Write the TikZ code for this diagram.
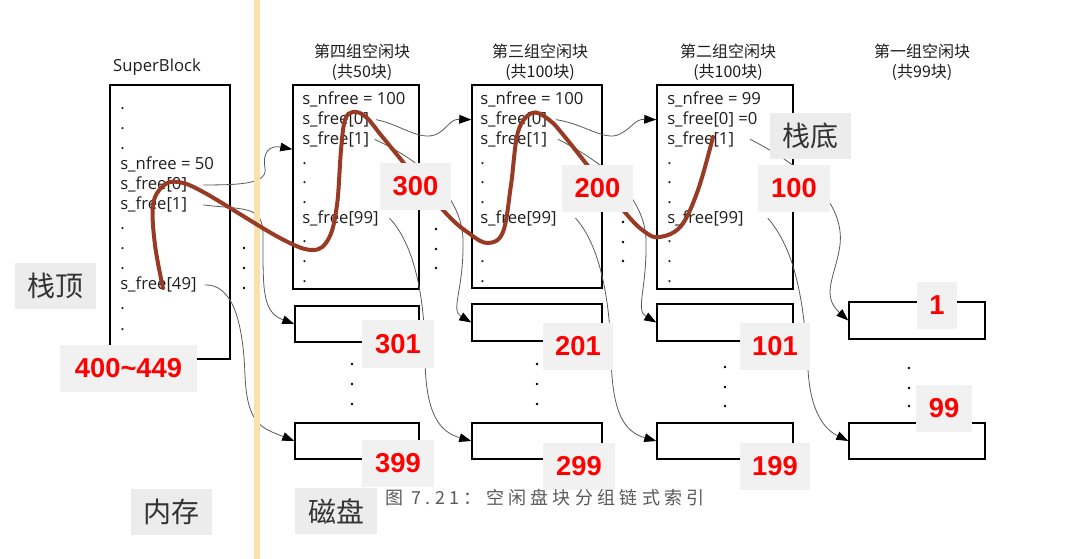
\documentclass[tikz,border=0pt]{standalone}
\usepackage{fontspec}
\setmainfont{Open Sans}
\newfontfamily\cjkf{Noto Sans CJK SC}
\newfontfamily\numf{Liberation Sans}
\usetikzlibrary{arrows.meta,calc}
\definecolor{barcol}{RGB}{249,226,174}
\definecolor{brownc}{RGB}{153,58,36}
\definecolor{conncol}{RGB}{90,90,90}
\definecolor{lblbg}{RGB}{241,241,241}
\definecolor{tagbg}{RGB}{236,236,236}
\definecolor{taggray}{RGB}{51,51,51}
\definecolor{capgray}{RGB}{90,90,90}
\definecolor{txtcol}{RGB}{30,30,30}
\tikzset{
  txt/.style={font=\fontsize{12.5}{14}\selectfont, text=txtcol, anchor=base west, inner sep=0pt},
  ttl/.style={font=\cjkf\fontsize{12}{15}\selectfont, text=txtcol, align=center, inner sep=0pt},
  bigbox/.style={draw=black, line width=1.1pt, inner sep=0pt},
  lbl/.style={fill=lblbg, text=red, font=\numf\bfseries\fontsize{20.5}{24}\selectfont, inner sep=0pt, minimum height=35.25pt},
  tag/.style={fill=tagbg, text=taggray, font=\cjkf\fontsize{21}{24}\selectfont, inner sep=0pt, minimum width=61pt, minimum height=34.5pt},
  conn/.style={draw=conncol, line width=0.6pt, -{Triangle[length=9pt,width=6.5pt,color=black]}},
  bdot/.style={circle, fill=black, inner sep=0pt, minimum size=2pt}
}
\begin{document}
\begin{tikzpicture}[x=0.75pt,y=-0.75pt]
\path[use as bounding box, fill=white] (0,0) rectangle (1070,559);

% ---- big boxes
\node[bigbox, minimum width=90pt, minimum height=205.5pt] (sb) at (170,222) {};
\node[bigbox, minimum width=94.5pt, minimum height=153pt] (g4) at (356,187) {};
\node[bigbox, minimum width=97.5pt, minimum height=152.25pt] (g3) at (537,186.5) {};
\node[bigbox, minimum width=102pt, minimum height=153pt] (g2) at (725,187) {};

% ---- small blocks
\node[bigbox, minimum width=93pt, minimum height=27pt] (b41) at (357,324) {};
\node[bigbox, minimum width=93pt, minimum height=27pt] (b42) at (357,441) {};
\node[bigbox, minimum width=97.5pt, minimum height=27.5pt] (b31) at (537,322.5) {};
\node[bigbox, minimum width=97.5pt, minimum height=27pt] (b32) at (537,441) {};
\node[bigbox, minimum width=102pt, minimum height=27.5pt] (b21) at (725,322.5) {};
\node[bigbox, minimum width=102pt, minimum height=27pt] (b22) at (725,441) {};
\node[bigbox, minimum width=102pt, minimum height=27.5pt] (b11) at (917,320.5) {};
\node[bigbox, minimum width=102pt, minimum height=27pt] (b12) at (917,441) {};

% ---- titles
\node[font=\fontsize{12.5}{14}\selectfont, text=txtcol] (sbt) at (157,67) {SuperBlock};
\node[ttl] (t4) at (362,62) {第四组空闲块\\(共50块)};
\node[ttl] (t3) at (540,62) {第三组空闲块\\(共100块)};
\node[ttl] (t2) at (728,62) {第二组空闲块\\(共100块)};
\node[ttl] (t1) at (922,62) {第一组空闲块\\(共99块)};

% ---- superblock text
\foreach \k in {0,1,2,6,7,8,10,11,12} \node[txt] at (120,{110+20*\k}) {.};
\node[txt] (sbn) at (120,170) {s\_nfree = 50};
\node[txt] (sbf0) at (120,190) {s\_free[0]};
\node[txt] (sbf1) at (120,210) {s\_free[1]};
\node[txt] (sbf49) at (120,290) {s\_free[49]};

% ---- group 4 text
\foreach \k in {3,4,5,7,8,9} \node[txt] at (302,{105+19.7*\k}) {.};
\node[txt] (g4n) at (302,105) {s\_nfree = 100};
\node[txt] (g4f0) at (302,124.7) {s\_free[0]};
\node[txt] (g4f1) at (302,144.4) {s\_free[1]};
\node[txt] (g4f99) at (302,223.2) {s\_free[99]};

% ---- group 3 text
\foreach \k in {3,4,5,7,8,9} \node[txt] at (480,{105+19.7*\k}) {.};
\node[txt] (g3n) at (480,105) {s\_nfree = 100};
\node[txt] (g3f0) at (480,124.7) {s\_free[0]};
\node[txt] (g3f1) at (480,144.4) {s\_free[1]};
\node[txt] (g3f99) at (480,223.2) {s\_free[99]};

% ---- group 2 text
\foreach \k in {3,4,5,7,8,9} \node[txt] at (667,{105+19.7*\k}) {.};
\node[txt] (g2n) at (667,105) {s\_nfree = 99};
\node[txt] (g2f0) at (667,124.7) {s\_free[0] =0};
\node[txt] (g2f1) at (667,144.4) {s\_free[1]};
\node[txt] (g2f99) at (667,223.2) {s\_free[99]};

% ---- loose dots
\foreach \y in {248,268,288} \node[bdot] at (244,\y) {};
\foreach \y in {229,249,268} \node[bdot] at (436,\y) {};
\foreach \y in {222,242,261} \node[bdot] at (623,\y) {};
\foreach \y in {364,384,404} \node[bdot] at (352,\y) {};
\foreach \y in {364,384,404} \node[bdot] at (537,\y) {};
\foreach \y in {367,387,406} \node[bdot] at (725,\y) {};
\foreach \y in {368,388,406} \node[bdot] at (909,\y) {};

% ---- connectors
\draw[conn] ([xshift=12pt]sbf0.east) .. controls (240,185) and (268,184) .. (265,168) .. controls (262,152) and (270,145) .. ($(g4.north west)+(0,65)$);
\draw[conn] ([xshift=12pt]sbf1.east) .. controls (245,210) and (263,205) .. (263,235) .. controls (263,290) and (262,312) .. (b41.west);
\draw[conn] ([xshift=6pt]sbf49.east) .. controls (232,284) and (243,320) .. (245,375) .. controls (247,425) and (262,428) .. (b42.west);

\draw[conn] ([xshift=5pt]g4f0.east) .. controls (400,124) and (420,142) .. (437,134) .. controls (448,128) and (450,119) .. (g3.west |- g3f0);
\draw[conn] ([xshift=4pt]g4f1.east) .. controls (420,160) and (462,195) .. (463,240) .. controls (464,290) and (450,310) .. (b31.west);
\draw[conn] ([xshift=8pt]g4f99.east) .. controls (415,245) and (425,300) .. (425,355) .. controls (425,415) and (440,432) .. (b32.west);

\draw[conn] ([xshift=6.5pt]g3f0.east) .. controls (585,124) and (605,142) .. (620,134) .. controls (632,128) and (635,119) .. (g2.west |- g2f0);
\draw[conn] ([xshift=8pt]g3f1.east) .. controls (600,160) and (645,195) .. (646,240) .. controls (647,290) and (635,310) .. (b21.west);
\draw[conn] ([xshift=14pt]g3f99.east) .. controls (600,245) and (610,300) .. (611,355) .. controls (612,415) and (625,432) .. (b22.west);

\draw[conn] ([xshift=12pt]g2f1.east) .. controls (800,165) and (845,200) .. (840,245) .. controls (836,275) and (820,295) .. (b11.west);
\draw[conn] ([xshift=18pt]g2f99.east) .. controls (800,255) and (805,320) .. (808,370) .. controls (811,420) and (830,432) .. (b12.west);

% ---- divider bar
\fill[barcol] (253.5,0) rectangle (259.5,559);

% ---- brown stack curve
\coordinate (bs) at (163,288);
\coordinate (be) at (713,137);
\draw[brownc, line width=3pt, line cap=round] plot[smooth, tension=0.6] coordinates {
 (bs) (155,245) (153,205) (163,186) (178,182) (205,193) (280,238) (313,250)
 (329,238) (337,205) (341,150) (345,120) (353,112) (366,117) (385,140) (443,210)
 (470,234) (488,243) (503,232) (511,185) (518,132) (532,113) (548,119) (565,137)
 (623,210) (645,232) (660,237) (681,226) (698,190) (be)};

% ---- red labels
\node[lbl, minimum width=53pt] (l300) at (415.5,186.5) {300};
\node[lbl, minimum width=53pt] (l200) at (597.5,188.5) {200};
\node[lbl, minimum width=54pt] (l100) at (794,188.5) {100};
\node[lbl, minimum width=54pt] (l301) at (398,344) {301};
\node[lbl, minimum width=52.5pt] (l201) at (578,346.5) {201};
\node[lbl, minimum width=52.5pt] (l101) at (775,346.5) {101};
\node[lbl, minimum width=54pt] (l399) at (398,463.5) {399};
\node[lbl, minimum width=54pt] (l299) at (579,466.5) {299};
\node[lbl, minimum width=52.5pt] (l199) at (775,466.5) {199};
\node[lbl, minimum width=30pt] (l1) at (937,305.5) {1};
\node[lbl, minimum width=42pt] (l99) at (944,408) {99};
\node[lbl, minimum width=102.75pt] (l400) at (128.5,368.5) {400\textasciitilde449};

% ---- grey tags
\node[tag] (zd) at (55.5,286) {栈顶};
\node[tag] (zdi) at (810.5,136) {栈底};
\node[tag] (nc) at (171.5,512) {内存};
\node[tag] (cp) at (336,511) {磁盘};

% ---- caption
\node[font=\cjkf\fontsize{13.5}{16}\selectfont\addfontfeatures{LetterSpace=24}, text=capgray, inner sep=0pt] (cap) at (545,498) {图 7.21：空闲盘块分组链式索引};
\end{tikzpicture}
\end{document}
